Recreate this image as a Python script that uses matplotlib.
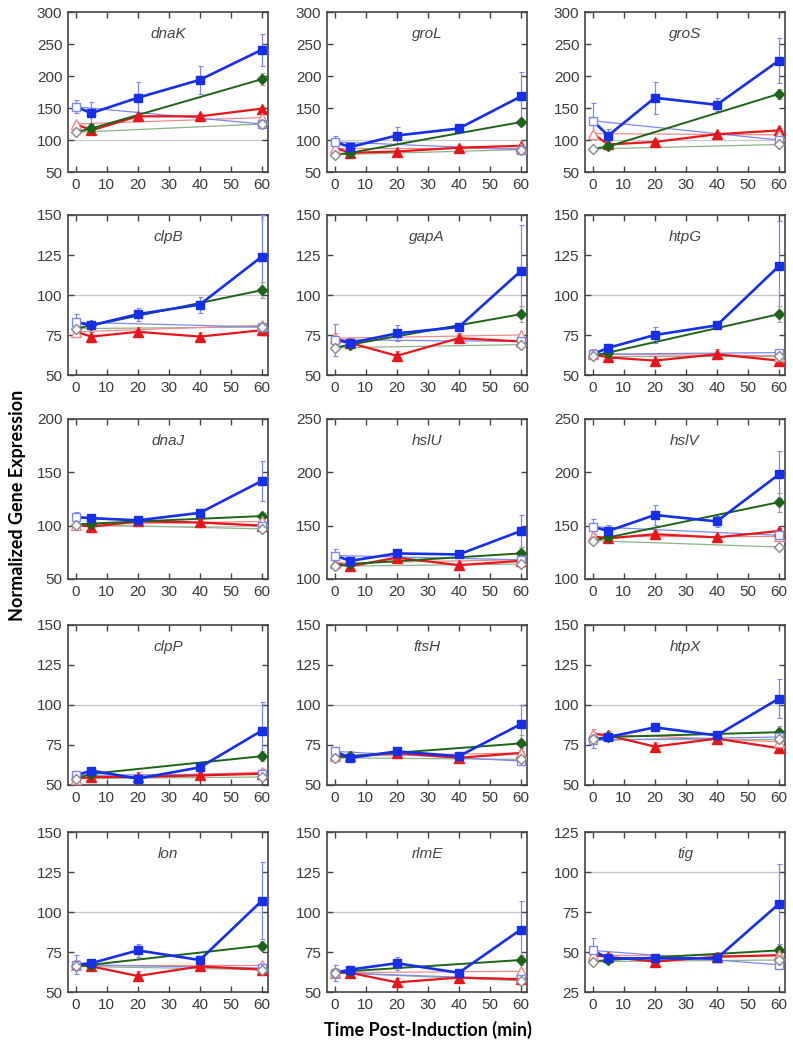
import matplotlib
matplotlib.use('Agg')
import matplotlib.pyplot as plt
import numpy as np

plt.rcParams['font.family'] = ['Liberation Sans', 'DejaVu Sans']

genes = ['dnaK', 'groL', 'groS',
         'clpB', 'gapA', 'htpG',
         'dnaJ', 'hslU', 'hslV',
         'clpP', 'ftsH', 'htpX',
         'lon', 'rlmE', 'tig']

t_full = [0, 5, 20, 40, 60]
t_green = [0, 5, 60]
t_ctrl = [0, 60]

ylims = [(50, 300), (50, 300), (50, 300),
         (50, 150), (50, 150), (50, 150),
         (50, 200), (100, 250), (100, 250),
         (50, 150), (50, 150), (50, 150),
         (50, 150), (50, 150), (25, 125)]
ysteps = [50, 50, 50,
          25, 25, 25,
          50, 50, 50,
          25, 25, 25,
          25, 25, 25]

# induced time courses (first point at t=0 is the shared, uninduced value)
blue = [[152, 142, 166, 194, 241],
        [97, 89, 107, 118, 168],
        [130, 107, 166, 155, 224],
        [83, 81, 88, 94, 124],
        [72, 70, 76, 80, 115],
        [63, 67, 75, 81, 118],
        [108, 107, 105, 112, 142],
        [122, 117, 124, 123, 145],
        [149, 145, 160, 154, 198],
        [56, 59, 54, 61, 84],
        [71, 67, 71, 68, 88],
        [78, 80, 86, 81, 104],
        [67, 68, 76, 70, 107],
        [62, 64, 68, 62, 89],
        [51, 46, 46, 46, 80]]
blue_err = [[10, 17, 24, 22, 25],
            [10, 5, 14, 5, 38],
            [28, 10, 25, 10, 35],
            [5, 2, 4, 5, 26],
            [10, 2, 5, 2, 29],
            [3, 2, 5, 2, 28],
            [5, 2, 2, 3, 19],
            [6, 3, 3, 3, 15],
            [7, 6, 9, 5, 22],
            [3, 2, 2, 3, 18],
            [3, 2, 2, 2, 12],
            [5, 2, 2, 2, 12],
            [6, 2, 4, 2, 24],
            [5, 2, 4, 2, 18],
            [8, 3, 2, 2, 25]]
red = [[125, 115, 137, 137, 149],
       [88, 80, 82, 88, 91],
       [110, 93, 97, 109, 115],
       [77, 74, 77, 74, 78],
       [73, 70, 62, 73, 71],
       [63, 61, 59, 63, 59],
       [101, 99, 104, 103, 100],
       [115, 112, 120, 113, 117],
       [140, 138, 142, 139, 145],
       [54, 55, 55, 56, 57],
       [68, 68, 70, 67, 70],
       [82, 81, 74, 79, 73],
       [67, 66, 60, 66, 64],
       [62, 62, 56, 59, 58],
       [48, 47, 44, 47, 48]]
green = [[112, 118, 195],
         [77, 80, 128],
         [86, 90, 172],
         [79, 81, 103],
         [67, 69, 88],
         [62, 64, 88],
         [101, 102, 109],
         [112, 114, 124],
         [136, 139, 172],
         [54, 57, 68],
         [67, 68, 76],
         [79, 80, 83],
         [66, 67, 79],
         [62, 63, 70],
         [44, 45, 51]]
green_err60 = [9, 5, 8, 5, 5, 5, 3, 6, 9, 3, 5, 4, 3, 3, 3]

# uninduced controls at 60 min (start point is the t=0 value above)
blue_ctrl60 = [125, 85, 100, 80, 71, 64, 100, 118, 141, 57, 65, 80, 65, 58, 42]
red_ctrl60 = [135, 88, 108, 81, 75, 62, 104, 118, 140, 58, 70, 77, 67, 63, 48]
green_ctrl60 = [125, 85, 93, 80, 69, 62, 97, 114, 130, 55, 66, 79, 64, 57, 45]

c_blue = '#1530e8'
c_blue_lt = '#7c88f0'
c_red = '#e8161a'
c_red_lt = '#f08a8a'
c_green = '#1e6418'
c_green_lt = '#8fb28a'
c_grey = '#888888'

W, H = 793, 1050
fig = plt.figure(figsize=(W / 100, H / 100), dpi=100)

col_left = [68, 327, 585]
row_top = [12, 215, 419, 625, 832]
ax_w, ax_h = 200, 160

for i, gene in enumerate(genes):
    r, c = divmod(i, 3)
    ax = fig.add_axes([col_left[c] / W, 1 - (row_top[r] + ax_h) / H, ax_w / W, ax_h / H])
    lo, hi = ylims[i]

    ax.axhline(100, color='#c8c8c8', lw=0.9, zorder=0)

    b0 = blue[i][0]
    r0 = red[i][0]
    g0 = green[i][0]
    # controls: thin lines 0 -> 60
    ax.plot(t_ctrl, [g0, green_ctrl60[i]], color=c_green_lt, lw=0.9, zorder=2)
    ax.plot(t_ctrl, [r0, red_ctrl60[i]], color=c_red_lt, lw=0.9, zorder=2)
    ax.plot(t_ctrl, [b0, blue_ctrl60[i]], color=c_blue_lt, lw=0.9, zorder=2)

    # error bars
    ax.errorbar(t_full, blue[i], yerr=blue_err[i], fmt='none', ecolor=c_blue_lt,
                elinewidth=0.9, capsize=1.8, capthick=0.8, zorder=3)
    ax.errorbar(t_full, red[i], yerr=[3] * 5, fmt='none', ecolor=c_red_lt,
                elinewidth=0.9, capsize=1.8, capthick=0.8, zorder=3)
    ax.errorbar([60], [green[i][2]], yerr=[green_err60[i]], fmt='none', ecolor=c_green_lt,
                elinewidth=0.9, capsize=1.8, capthick=0.8, zorder=3)

    # induced time courses
    ax.plot(t_full, red[i], color=c_red, lw=1.6, zorder=4)
    ax.plot(t_full[1:], red[i][1:], ls='none', marker='^', ms=6.5, color=c_red, zorder=5)
    ax.plot(t_green, green[i], color=c_green, lw=1.4, zorder=4)
    ax.plot(t_green[1:], green[i][1:], ls='none', marker='D', ms=5, color=c_green, zorder=5)
    ax.plot(t_full, blue[i], color=c_blue, lw=1.9, zorder=6)
    ax.plot(t_full[1:], blue[i][1:], ls='none', marker='s', ms=5.5, color=c_blue, zorder=7)

    # open markers: t=0 values and 60-min controls
    ax.plot(t_ctrl, [r0, red_ctrl60[i]], ls='none', marker='^', ms=6.5, mfc='white',
            mec=c_red_lt, mew=1.0, zorder=8)
    ax.plot(t_ctrl, [b0, blue_ctrl60[i]], ls='none', marker='s', ms=5.5, mfc='white',
            mec=c_blue_lt, mew=1.0, zorder=8)
    ax.plot(t_ctrl, [g0, green_ctrl60[i]], ls='none', marker='D', ms=5.5, mfc='white',
            mec=c_grey, mew=1.0, zorder=9)

    ax.set_xlim(-2.5, 62)
    ax.set_ylim(lo, hi)
    ax.set_xticks(np.arange(0, 61, 10))
    ax.set_yticks(np.arange(lo, hi + 1, ysteps[i]))
    ax.tick_params(direction='in', top=True, right=True, length=4.5, width=1.0,
                   labelsize=11, colors='#444444', labelcolor='#3a3a3a', pad=4)
    for s in ax.spines.values():
        s.set_color('#444444')
        s.set_linewidth(1.2)
    ax.text(0.5, 0.86, gene, transform=ax.transAxes, ha='center', va='center',
            fontsize=11, style='italic', color='#444444')

fig.text(18 / W, 1 - 505 / H, 'Normalized Gene Expression', rotation=90,
         ha='center', va='center', fontsize=13, fontweight='bold', family=['Lato', 'DejaVu Sans'])
fig.text(428 / W, 1 - 1030 / H, 'Time Post-Induction (min)',
         ha='center', va='center', fontsize=13, fontweight='bold', family=['Lato', 'DejaVu Sans'])

fig.savefig('out.png', dpi=100)
